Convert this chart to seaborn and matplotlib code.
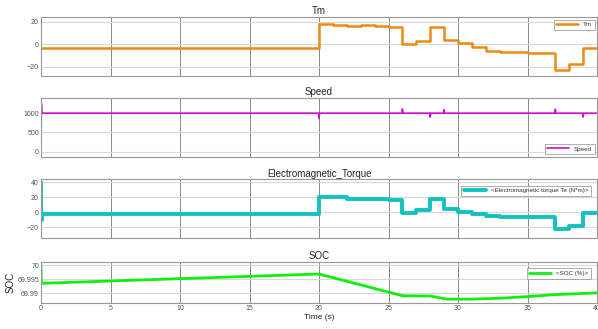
import numpy as np
import pandas as pd
import matplotlib
matplotlib.use("Agg")
import matplotlib.pyplot as plt
import seaborn as sns

# ---- data ----
tm_t = [0, 20, 21, 22, 23, 24, 25, 26, 27, 28, 29, 30, 31, 32, 33, 35, 37, 38, 39, 40]
tm_v = [-3, 18, 17.4, 15.9, 17.4, 16.5, 15.7, 0, 2.6, 15, 4, 1.4, -2.3, -5.8, -7.2, -7.5, -22.6, -17.4, -3.2, -3.2]

speed_t = [0, 0.03, 0.06, 19.98, 20, 20.04, 25.98, 26, 26.04, 27.98, 28, 28.04,
           28.98, 29, 29.04, 36.98, 37, 37.04, 38.98, 39, 39.04, 40]
speed_v = [0, 1250, 1000, 1000, 860, 1000, 1000, 1110, 1000, 1000, 900, 1000,
           1000, 1090, 1000, 1000, 1100, 1000, 1000, 900, 1000, 1000]

te_t = [0, 0.03, 0.08, 20, 22, 23, 25, 26, 27, 28, 29, 30, 31, 32, 33, 37, 38, 39, 40]
te_v = [40, -10, -2, 20, 17.3, 17.6, 16.4, -0.5, 3, 17.6, 4, 0.9, -2.3, -4.9, -6.7, -22.7, -17.8, -1.3, -1.3]

soc_t = [0, 0.02, 20, 26, 28, 29.2, 31, 33, 35, 37, 40]
soc_v = [70.0, 69.9936, 69.9969, 69.9892, 69.9891, 69.9880, 69.9880, 69.9883, 69.9889, 69.9896, 69.9902]

sns.set_style("white")
plt.rcParams['font.family'] = ['Liberation Sans', 'DejaVu Sans']

fig = plt.figure(figsize=(5.98, 3.29), dpi=100)
left, width = 41 / 598, 556 / 598
boxes = [(0.769, 0.179), (0.524, 0.1775), (0.2775, 0.1775), (0.078, 0.126)]
axes = [fig.add_axes([left, y0, width, h]) for y0, h in boxes]

tick_gray = '#555555'


def style(ax, title, yticks, ylim, labels=False):
    ax.set_xlim(0, 40)
    ax.set_ylim(*ylim)
    ax.set_xticks(range(0, 41, 5))
    ax.set_yticks(yticks)
    ax.set_title(title, fontsize=7, pad=2)
    ax.xaxis.grid(True, color='#777777', linewidth=0.6)
    ax.yaxis.grid(True, color='#d8d8d8', linewidth=0.8)
    ax.set_axisbelow(True)
    ax.tick_params(direction='in', length=2, width=0.5, labelsize=5, colors=tick_gray, pad=1.5)
    if not labels:
        ax.set_xticklabels([])
    for s in ax.spines.values():
        s.set_color('#999999')
        s.set_linewidth(0.8)
    ax.set_xlabel('')
    ax.set_ylabel('')


def legend(ax, loc, handlelength=3.5, inset=0.4):
    leg = ax.legend(loc=loc, fontsize=4.5, frameon=True, fancybox=False,
                    handlelength=handlelength, borderpad=0.4, borderaxespad=inset)
    leg.get_frame().set_edgecolor('#888888')
    leg.get_frame().set_linewidth(0.6)
    for t in leg.get_texts():
        t.set_color('#333333')


tm = pd.DataFrame({'t': tm_t, 'v': tm_v})
sns.lineplot(data=tm, x='t', y='v', ax=axes[0], color='#EC8A12', linewidth=1.8,
             drawstyle='steps-post', label='Tm')
style(axes[0], 'Tm', [-20, 0, 20], (-28, 24))
legend(axes[0], 'upper right', 3.5)

sp = pd.DataFrame({'t': speed_t, 'v': speed_v})
sns.lineplot(data=sp, x='t', y='v', ax=axes[1], color='#CC11CC', linewidth=1.2,
             label='Speed', sort=False)
style(axes[1], 'Speed', [0, 500, 1000], (-130, 1390))
legend(axes[1], 'lower right')

te = pd.DataFrame({'t': te_t, 'v': te_v})
sns.lineplot(data=te, x='t', y='v', ax=axes[2], color='#12C2C2', linewidth=2.8,
             drawstyle='steps-post', label='<Electromagnetic torque Te (N*m)>')
style(axes[2], 'Electromagnetic_Torque', [-20, 0, 20, 40], (-34, 44))
legend(axes[2], 'upper right', 3.5, 1.0)

soc = pd.DataFrame({'t': soc_t, 'v': soc_v})
sns.lineplot(data=soc, x='t', y='v', ax=axes[3], color='#11EE11', linewidth=2.0,
             label='<SOC (%)>', sort=False)
style(axes[3], 'SOC', [69.99, 69.995, 70.0], (69.9865, 70.0012), labels=True)
axes[3].set_yticklabels(['69.99', '69.995', '70'])
axes[3].set_ylabel('SOC', fontsize=7, labelpad=1)
axes[3].set_xlabel('Time (s)', fontsize=6, labelpad=1)
legend(axes[3], 'upper right', 3.5, 1.0)

fig.savefig('out.png', dpi=100)
